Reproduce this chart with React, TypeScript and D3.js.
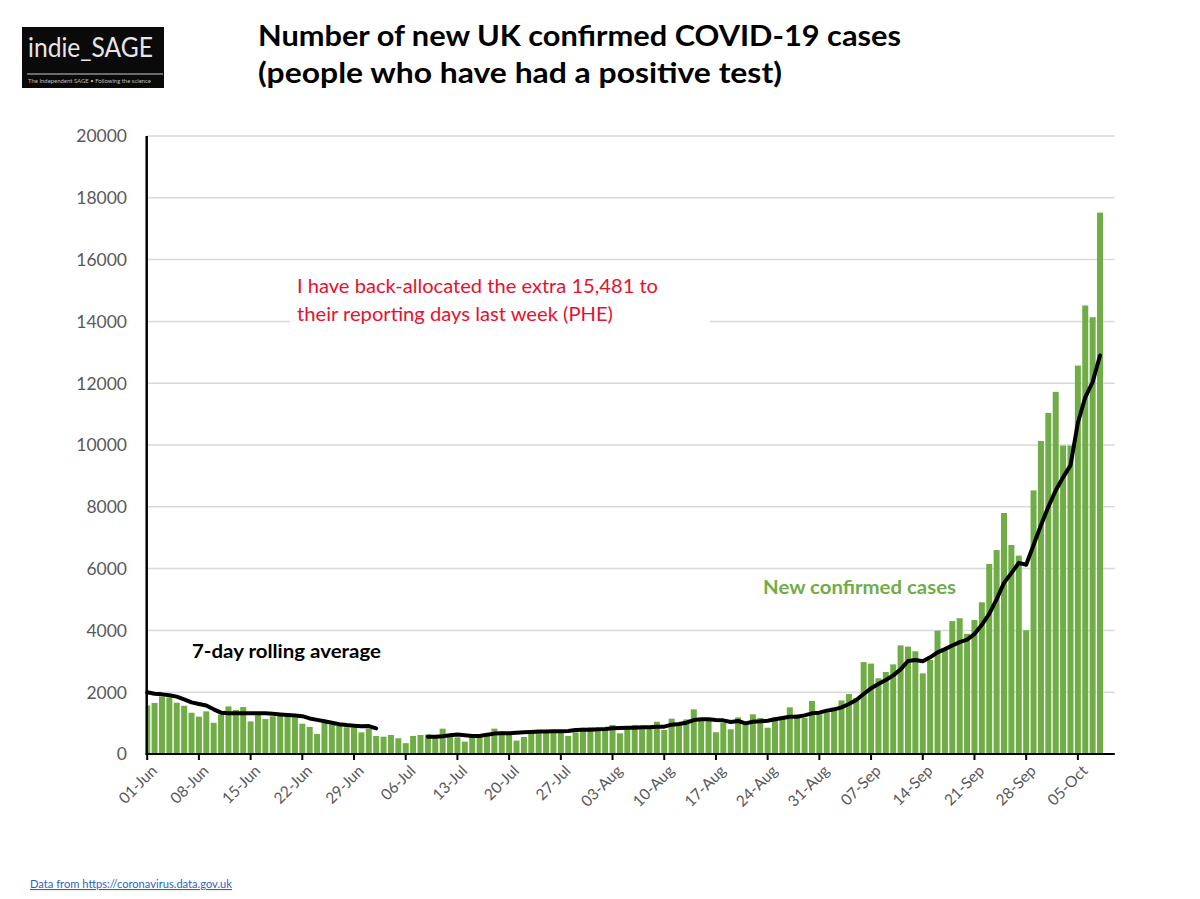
import React from 'react';
import * as d3 from 'd3';

// Daily new confirmed cases, 01-Jun .. 08-Oct (one per day)
const dailyCases: number[] = [
  1570, 1650, 1860, 1830, 1660, 1560, 1335, 1210, 1380, 1010,
  1280, 1540, 1425, 1520, 1055, 1265, 1130, 1220, 1260, 1200,
  1190, 980, 875, 650, 1005, 960, 915, 865, 860, 700,
  820, 585, 560, 615, 510, 350, 585, 615, 635, 580,
  820, 560, 540, 400, 550, 540, 635, 820, 730, 670,
  435, 550, 765, 745, 745, 745, 710, 585, 700, 850,
  865, 780, 780, 940, 670, 885, 940, 885, 900, 1045,
  780, 1145, 960, 1120, 1445, 1070, 1070, 705, 1015, 800,
  1185, 950, 1285, 1165, 850, 1185, 1185, 1510, 1275, 1170,
  1715, 1285, 1340, 1510, 1735, 1940, 1810, 2975, 2925, 2450,
  2655, 2900, 3515, 3475, 3325, 2610, 3045, 3990, 3360, 4300,
  4395, 3890, 4335, 4910, 6150, 6600, 7800, 6765, 6420, 4005,
  8530, 10130, 11040, 11720, 9980, 9980, 12570, 14515, 14135, 17520,
];

// 7-day rolling average as drawn (gap early July)
const rollingAvg: (number | null)[] = [
  1996, 1950, 1930, 1900, 1856, 1769, 1672, 1620, 1570, 1445,
  1337, 1316, 1316, 1316, 1316, 1316, 1316, 1305, 1280, 1260,
  1245, 1225, 1150, 1105, 1060, 1010, 965, 935, 915, 900,
  905, 830, null, null, null, null, null, null, 560, 560,
  575, 604, 630, 610, 585, 580, 626, 660, 669, 669,
  690, 701, 715, 725, 730, 734, 734, 744, 777, 788,
  788, 798, 809, 830, 841, 852, 852, 863, 863, 885,
  885, 949, 971, 1014, 1100, 1125, 1122, 1100, 1089, 1035,
  1068, 992, 1046, 1057, 1078, 1122, 1165, 1208, 1208, 1251,
  1316, 1338, 1402, 1445, 1510, 1618, 1748, 1942, 2125, 2265,
  2395, 2546, 2740, 3010, 3042, 2999, 3128, 3290, 3393, 3510,
  3620, 3700, 3880, 4182, 4535, 5007, 5537, 5855, 6185, 6126,
  6762, 7401, 7996, 8529, 8953, 9342, 10720, 11544, 12039, 12899,
];

const yTickValues: number[] = [0, 2000, 4000, 6000, 8000, 10000, 12000, 14000, 16000, 18000, 20000];

const xTickLabels: string[] = [
  '01-Jun', '08-Jun', '15-Jun', '22-Jun', '29-Jun', '06-Jul', '13-Jul', '20-Jul', '27-Jul',
  '03-Aug', '10-Aug', '17-Aug', '24-Aug', '31-Aug', '07-Sep', '14-Sep', '21-Sep', '28-Sep', '05-Oct',
];
const xTickStep = 7;

const titleLines: string[] = [
  'Number of new UK confirmed COVID-19 cases',
  '(people who have had a positive test)',
];
const noteLines: string[] = [
  'I have back-allocated the extra 15,481 to',
  'their reporting days last week (PHE)',
];

export default function App() {
  const left = 147.2;
  const right = 1114.8;
  const top = 136;
  const bottom = 754;

  const x = d3.scaleLinear().domain([0, 131]).range([left, right]);
  const y = d3.scaleLinear().domain([0, 20000]).range([bottom, top]);
  const barW = 6;

  const line = d3
    .line<number | null>()
    .defined((d) => d != null)
    .x((_d, i) => x(i))
    .y((d) => y(d as number));

  const font = 'Lato, "Open Sans", sans-serif';
  const gray = '#595959';
  const green = '#70ad47';

  return (
    <div style={{ position: 'absolute', left: 0, top: 0 }}>
      <svg width={1200} height={899} style={{ display: 'block', background: '#fff' }} fontFamily={font}>
        <defs>
          <clipPath id="plotClip">
            <rect x={left + 0.5} y={top - 10} width={right - left} height={bottom - top + 10} />
          </clipPath>
        </defs>

        {/* Logo */}
        <rect x={22} y={27} width={142} height={61} fill="#0a0a0a" />
        <text x={28} y={57} fontSize={27} fill="#e6e6e6" textLength={125} lengthAdjust="spacingAndGlyphs">
          indie_SAGE
        </text>
        <line x1={27} x2={163} y1={74} y2={74} stroke="#8c8c8c" strokeWidth={1.5} />
        <text x={28} y={82.5} fontSize={6} fill="#bdbdbd" textLength={123} lengthAdjust="spacingAndGlyphs">
          The Independent SAGE • Following the science
        </text>

        {/* Title */}
        {titleLines.map((t, k) => (
          <text
            key={t}
            x={258}
            y={k === 0 ? 46 : 83}
            fontSize={28}
            fontWeight={700}
            fill="#000"
            textLength={k === 0 ? 643 : 524}
            lengthAdjust="spacingAndGlyphs"
          >
            {t}
          </text>
        ))}

        {/* Gridlines */}
        {yTickValues
          .filter((v) => v > 0)
          .map((v) => (
            <line key={v} x1={left} x2={right} y1={y(v)} y2={y(v)} stroke="#d9d9d9" strokeWidth={1.5} />
          ))}

        {/* Y labels */}
        {yTickValues.map((v) => (
          <text key={v} x={127} y={y(v)} dy="0.36em" textAnchor="end" fontSize={17.5} fill={gray}>
            {v}
          </text>
        ))}

        {/* Annotation background */}
        <rect x={290} y={264} width={420} height={68} fill="#fff" />
        {noteLines.map((t, k) => (
          <text
            key={t}
            x={297}
            y={k === 0 ? 293 : 321}
            fontSize={19.5}
            fill="#e8112d"
            textLength={k === 0 ? 361 : 316}
            lengthAdjust="spacingAndGlyphs"
          >
            {t}
          </text>
        ))}

        {/* Bars */}
        <g clipPath="url(#plotClip)">
          {dailyCases.map((v, i) => (
            <rect key={i} x={x(i) - barW / 2} y={y(v)} width={barW} height={y(0) - y(v)} fill={green} />
          ))}
        </g>

        {/* Rolling average */}
        <path
          d={line(rollingAvg) || ''}
          fill="none"
          stroke="#000"
          strokeWidth={4}
          strokeLinejoin="round"
          strokeLinecap="round"
        />

        {/* Axes */}
        <line x1={left - 0.5} x2={left - 0.5} y1={top} y2={bottom + 1} stroke="#000" strokeWidth={2.5} />
        <line x1={left - 1.5} x2={right} y1={bottom} y2={bottom} stroke="#000" strokeWidth={2} />
        {xTickLabels.map((lab, k) => {
          const xi = x(k * xTickStep);
          return (
            <g key={lab}>
              <line x1={xi} x2={xi} y1={bottom} y2={bottom + 6} stroke="#000" strokeWidth={2} />
              <text
                transform={`translate(${xi + 7},${bottom + 14}) rotate(-45)`}
                textAnchor="end"
                dy="0.35em"
                fontSize={15.5}
                fill={gray}
              >
                {lab}
              </text>
            </g>
          );
        })}

        {/* Series labels */}
        <text x={192} y={658} fontSize={19.5} fontWeight={700} fill="#000" textLength={189} lengthAdjust="spacingAndGlyphs">
          7-day rolling average
        </text>
        <text x={763} y={594} fontSize={19.5} fontWeight={700} fill={green} textLength={193} lengthAdjust="spacingAndGlyphs">
          New confirmed cases
        </text>

        {/* Footnote */}
        <text x={30} y={888} fontSize={11} fill="#2f62c0" textDecoration="underline" textLength={202} lengthAdjust="spacingAndGlyphs">
          Data from https://coronavirus.data.gov.uk
        </text>
      </svg>
    </div>
  );
}
